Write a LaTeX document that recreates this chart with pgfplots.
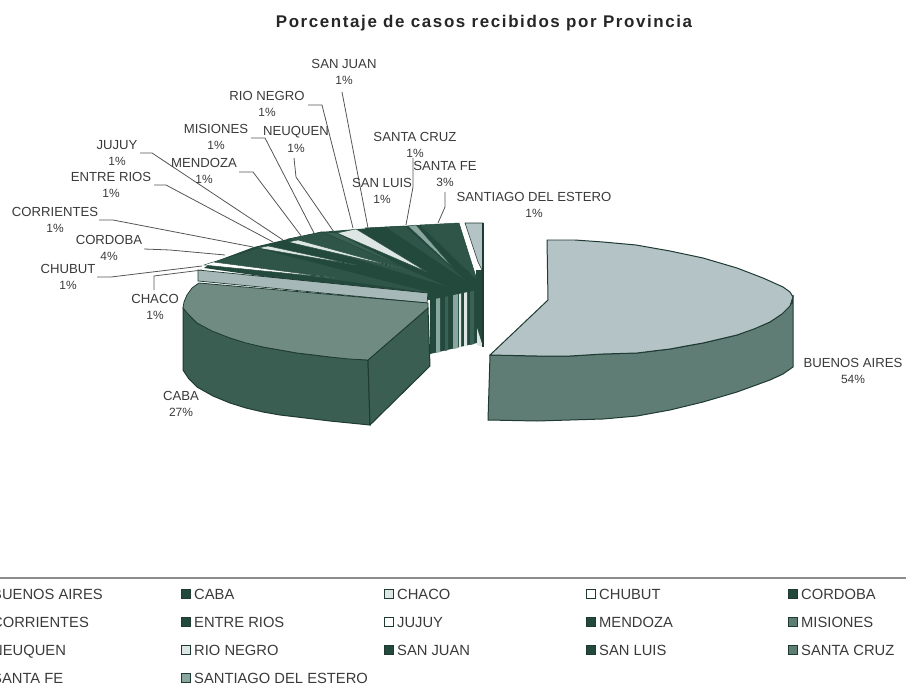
\documentclass[border=0pt]{standalone}
\usepackage{fontspec}
\setmainfont{Liberation Sans}
\usepackage{pgfplots}
\pgfplotsset{compat=1.18}
\definecolor{bat}{HTML}{B4C4C6}
\definecolor{bas}{HTML}{5F7D74}
\definecolor{cat}{HTML}{6F8B82}
\definecolor{cas}{HTML}{3A5E51}
\definecolor{cha}{HTML}{A6B9B8}
\definecolor{dk}{HTML}{23493C}
\definecolor{dk2}{HTML}{2F5548}
\definecolor{mid}{HTML}{5C7F72}
\definecolor{mid2}{HTML}{3B6155}
\definecolor{lt}{HTML}{DDE6E4}
\definecolor{lt2}{HTML}{8AA6A0}
\definecolor{edge}{HTML}{1E3A32}
\definecolor{ink}{HTML}{3A3A3A}
\definecolor{lead}{HTML}{555555}
\newcommand{\lab}[4]{\node[ink,font=\fontsize{13.2}{15}\selectfont] at (axis cs:#1,#2) {#3};\node[ink,font=\fontsize{12}{14}\selectfont] at (axis cs:#1,#2+16) {#4};}
\newcommand{\leg}[4]{\addplot[only marks,mark=square*,mark size=4.3pt,mark options={fill=#4,draw=edge,line width=1.2pt}] coordinates {(#1,#2)};
\node[ink,anchor=base west,inner sep=0pt,font=\fontsize{14.8}{16}\selectfont] at (axis cs:#1+8,#2+5) {#3};}
\begin{document}
\begin{tikzpicture}
\begin{axis}[name=a,hide axis,scale only axis,width=906bp,height=687bp,xmin=0,xmax=906,ymin=0,ymax=687,y dir=reverse,clip=true]
% vertical cut faces of the small slices
\addplot[fill=dk,draw=none] coordinates {(430,295)(477,282)(477,343)(430,354)} --cycle;
\addplot[fill=lt2,draw=none] coordinates {(436,293)(440,292)(440,352)(436,353)} --cycle;
\addplot[fill=mid2,draw=none] coordinates {(445,291)(448,290)(448,350)(445,351)} --cycle;
\addplot[fill=lt2,draw=none] coordinates {(453,289)(458,288)(458,348)(453,349)} --cycle;
\addplot[fill=lt,draw=none] coordinates {(459,288)(461,287)(461,347)(459,348)} --cycle;
\addplot[fill=lt,draw=none] coordinates {(464,286)(467,285)(467,346)(464,346)} --cycle;
\addplot[fill=mid2,draw=none] coordinates {(470,284)(474,283)(474,344)(470,345)} --cycle;
% Santiago del Estero
\addplot[fill=dk,draw=none] coordinates {(476,270)(483,270)(483,347)(479,340)(476,330)} --cycle;
\addplot[fill=bat,draw=edge,line width=0.6pt] coordinates {(465,223)(483,223)(483,272)(478,262)} --cycle;
\addplot[fill=lt,draw=none] coordinates {(477,328)(483,347)(477,345)} --cycle;
\addplot[edge,line width=1.1pt] coordinates {(483,223)(483,347)};
% dark body under the fan
\addplot[fill=dk,draw=none] coordinates {(204,268)(211,263)(254,247)(288,239)(320,232)(345,230)(385,227)(420,225)(477,280)(477,290)(430,300)} --cycle;
% fan of slices, back to front
\addplot[fill=dk2,draw=dk,line width=0.5pt] coordinates {(420,225)(459,223)(477,280)} --cycle; % Santa Fe
\addplot[fill=lt2,draw=dk,line width=0.4pt] coordinates {(408,226)(416,225)(455,270)} --cycle; % Santa Cruz
\addplot[fill=dk2,draw=dk,line width=0.5pt] coordinates {(385,227)(405,226)(470,284)} --cycle; % San Luis
\addplot[fill=dk,draw=dk,line width=0.5pt] coordinates {(365,228)(385,227)(467,285)} --cycle; % San Juan
\addplot[fill=lt,draw=dk,line width=0.4pt] coordinates {(337,233)(356,229)(427,272)} --cycle; % Rio Negro
\addplot[fill=mid2,draw=dk,line width=0.5pt] coordinates {(322,232)(337,233)(440,285)} --cycle; % Neuquen
\addplot[fill=dk2,draw=dk,line width=0.5pt] coordinates {(288,239)(322,232)(454,289)} --cycle; % Mendoza
\addplot[fill=lt,draw=dk,line width=0.4pt] coordinates {(288,242)(298,240)(400,268)} --cycle; % Jujuy
\addplot[fill=dk,draw=dk,line width=0.5pt] coordinates {(264,246)(288,242)(446,291)} --cycle; % Entre Rios
\addplot[fill=lt,draw=dk,line width=0.4pt] coordinates {(258,248)(268,246)(356,265)} --cycle; % Corrientes
\addplot[fill=dk2,draw=dk,line width=0.5pt] coordinates {(211,263)(258,248)(437,294)} --cycle; % Cordoba
\addplot[fill=white,draw=dk,line width=0.4pt] coordinates {(204,265)(213,262)(335,278)} --cycle; % Chubut
% Chaco
\addplot[fill=cha,draw=edge,line width=0.7pt] coordinates {(198,270)(198,281)(427,303)(428,293)} --cycle;
% CABA
\addplot[fill=cas,draw=edge,line width=1pt] coordinates {(183,308)(183,370)(189,379)(197,387)(213,396)(230,403)(246,408)(263,412)(280,415)(297,417)(330,421)(370,425)(368,360)(330,357)(297,353)(263,347)(230,338)(197,323)} --cycle;
\addplot[fill=cas,draw=edge,line width=1pt] coordinates {(368,360)(428,308)(430,366)(370,425)} --cycle;
\addplot[fill=cat,draw=edge,line width=0.8pt] coordinates {(199,283)(192,288)(187,295)(184,302)(183,308)(188,314)(197,323)(212,331)(230,338)(246,343)(263,347)(280,350)(297,353)(314,355)(330,357)(349,359)(368,360)(428,308)(428,303)} --cycle;
% Buenos Aires
\addplot[fill=bas,draw=edge,line width=1pt] coordinates {(490,355)(488,420)(537,421)(570,420)(603,419)(637,416)(670,410)(703,402)(737,392)(770,380)(783,374)(793,367)(793,295)(792,303)(770,322)(737,335)(703,343)(670,349)(637,353)(603,354)(570,356)(537,356)} --cycle;
\addplot[fill=bat,draw=edge,line width=1pt] coordinates {(547,240)(575,240)(603,242)(636,245)(670,251)(703,258)(737,268)(763,278)(783,287)(790,292)(793,297)(790,306)(782,314)(770,322)(754,329)(737,335)(720,339)(703,343)(686,346)(670,349)(653,351)(637,353)(603,354)(570,356)(537,356)(490,355)(548,300)} --cycle;
% leader lines
\addplot[lead,line width=0.8pt] coordinates {(342,92)(368,228)};
\addplot[lead,line width=0.8pt] coordinates {(308,105)(322,105)(353,228)};
\addplot[lead,line width=0.8pt] coordinates {(251,138)(265,138)(314,233)};
\addplot[lead,line width=0.8pt] coordinates {(294,158)(296,177)(334,232)};
\addplot[lead,line width=0.8pt] coordinates {(413,158)(413,187)(406,225)};
\addplot[lead,line width=0.8pt] coordinates {(445,192)(445,207)(438,223)};
\addplot[lead,line width=0.8pt] coordinates {(140,153)(152,153)(283,240)};
\addplot[lead,line width=0.8pt] coordinates {(239,172)(253,172)(302,237)};
\addplot[lead,line width=0.8pt] coordinates {(154,185)(166,185)(273,242)};
\addplot[lead,line width=0.8pt] coordinates {(99,220)(113,220)(253,247)};
\addplot[lead,line width=0.8pt] coordinates {(144,249)(170,250)(225,255)};
\addplot[lead,line width=0.8pt] coordinates {(97,277)(111,277)(202,266)};
\addplot[lead,line width=0.8pt] coordinates {(154,290)(154,276)(202,270)};
% labels
\node[black!85,font=\fontsize{17}{20}\bfseries\addfontfeature{LetterSpace=9.5}\selectfont] at (axis cs:484,23) {Porcentaje de casos recibidos por Provincia};
\lab{344}{64}{SAN JUAN}{1\%}
\lab{267}{96}{RIO NEGRO}{1\%}
\lab{216}{129}{MISIONES}{1\%}
\lab{296}{132}{NEUQUEN}{1\%}
\lab{415}{137}{SANTA CRUZ}{1\%}
\lab{117}{145}{JUJUY}{1\%}
\lab{204}{163}{MENDOZA}{1\%}
\lab{445}{166}{SANTA FE}{3\%}
\lab{111}{177}{ENTRE RIOS}{1\%}
\lab{382}{183}{SAN LUIS}{1\%}
\lab{534}{197}{SANTIAGO DEL ESTERO}{1\%}
\lab{55}{212}{CORRIENTES}{1\%}
\lab{109}{240}{CORDOBA}{4\%}
\lab{68}{269}{CHUBUT}{1\%}
\lab{155}{299}{CHACO}{1\%}
\lab{181}{396}{CABA}{27\%}
\lab{853}{363}{BUENOS AIRES}{54\%}
% legend
\addplot[black!45,line width=1.4pt] coordinates {(0,578)(906,578)};
\leg{-16}{594}{BUENOS AIRES}{bat}
\leg{186}{594}{CABA}{dk}
\leg{389}{594}{CHACO}{lt}
\leg{591}{594}{CHUBUT}{white}
\leg{793}{594}{CORDOBA}{dk}
\leg{-16}{622}{CORRIENTES}{lt}
\leg{186}{622}{ENTRE RIOS}{dk}
\leg{389}{622}{JUJUY}{white}
\leg{591}{622}{MENDOZA}{dk}
\leg{793}{622}{MISIONES}{mid}
\leg{-16}{650}{NEUQUEN}{mid2}
\leg{186}{650}{RIO NEGRO}{lt}
\leg{389}{650}{SAN JUAN}{dk}
\leg{591}{650}{SAN LUIS}{dk}
\leg{793}{650}{SANTA CRUZ}{mid}
\leg{-16}{678}{SANTA FE}{dk}
\leg{186}{678}{SANTIAGO DEL ESTERO}{lt2}
\end{axis}
\pgfresetboundingbox
\path[use as bounding box] (a.south west) rectangle (a.north east);
\end{tikzpicture}
\end{document}
